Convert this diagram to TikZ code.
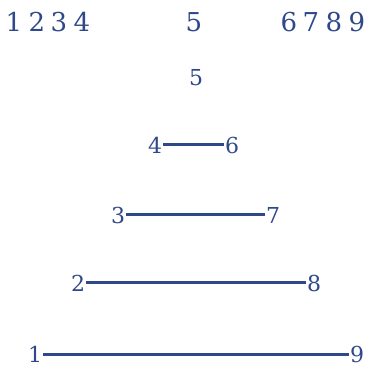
\documentclass[tikz,border=0pt]{standalone}
\usepackage{fontspec}
\setmainfont{DejaVu Serif}
\definecolor{navy}{RGB}{46,72,138}
\begin{document}
\begin{tikzpicture}[x=1pt,y=-1pt,
  big/.style={text=navy,font=\fontsize{26}{28}\selectfont,inner sep=0pt,anchor=center},
  num/.style={text=navy,font=\fontsize{22}{24}\selectfont,inner sep=1pt,anchor=center},
  link/.style={draw=navy,line width=3pt}]
\useasboundingbox (0,0) rectangle (367,366);
\node[big] (t1) at (14,22) {1};
\node[big] (t2) at (37,22) {2};
\node[big] (t3) at (59,22) {3};
\node[big] (t4) at (82,22) {4};
\node[big] (t5) at (194,22) {5};
\node[big] (t6) at (289,22) {6};
\node[big] (t7) at (311,22) {7};
\node[big] (t8) at (334,22) {8};
\node[big] (t9) at (357,22) {9};
\node[num] (p5) at (196,78) {5};
\node[num] (p4) at (155,145) {4};
\node[num] (p6) at (232,145) {6};
\node[num] (p3) at (118,215) {3};
\node[num] (p7) at (273,215) {7};
\node[num] (p2) at (78,283) {2};
\node[num] (p8) at (314,283) {8};
\node[num] (p1) at (35,354) {1};
\node[num] (p9) at (357,354) {9};
\draw[link] (p4) -- (p6);
\draw[link] (p3) -- (p7);
\draw[link] (p2) -- (p8);
\draw[link] (p1) -- (p9);
\end{tikzpicture}
\end{document}
